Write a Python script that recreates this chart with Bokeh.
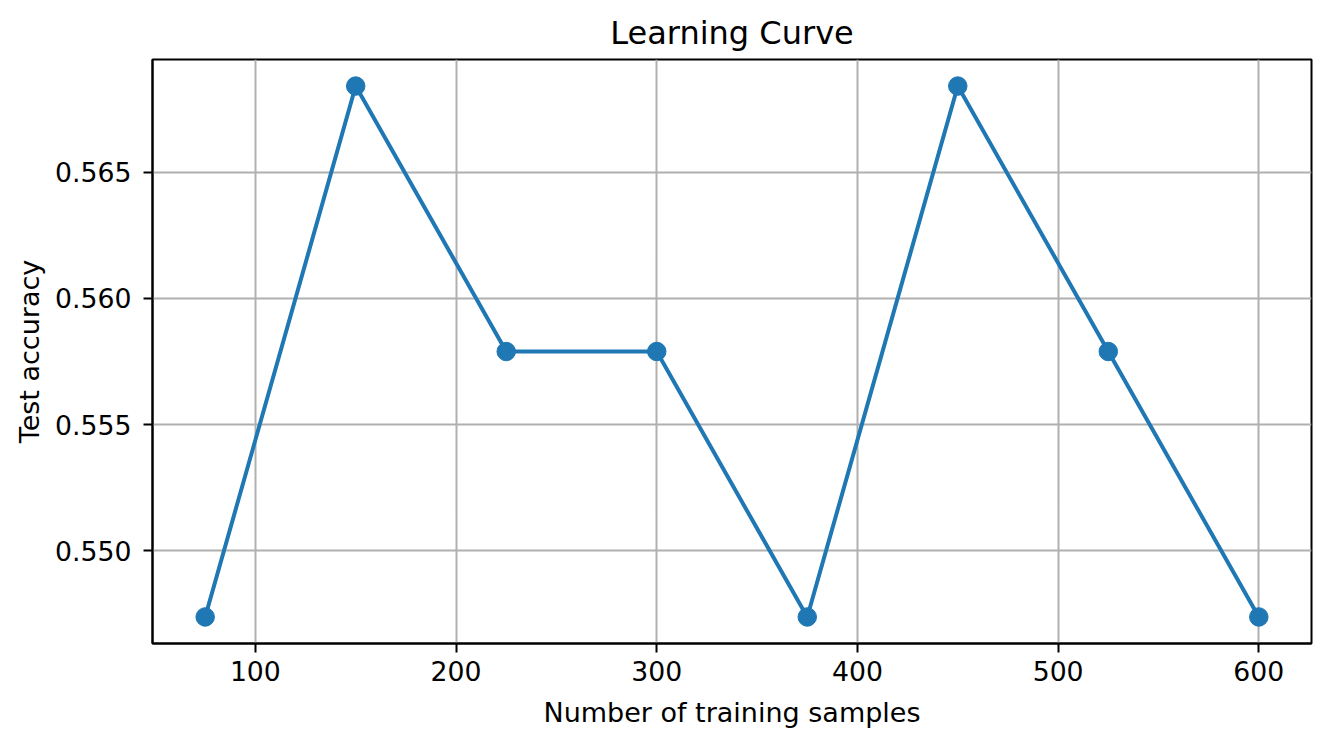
from bokeh.plotting import figure
from bokeh.models import FixedTicker, PrintfTickFormatter, Range1d
from bokeh.embed import file_html
from bokeh.resources import INLINE

train_sizes = [75, 150, 225, 300, 375, 450, 525, 600]
test_accuracy = [104/190, 108/190, 106/190, 106/190, 104/190, 108/190, 106/190, 104/190]
x_ticks = [100, 200, 300, 400, 500, 600]
y_ticks = [0.550, 0.555, 0.560, 0.565]

xmin, xmax = min(train_sizes), max(train_sizes)
ymin, ymax = min(test_accuracy), max(test_accuracy)
xpad = (xmax - xmin) * 0.05
ypad = (ymax - ymin) * 0.05

FONT = "DejaVu Sans"

p = figure(width=1321, height=739, output_backend="svg", toolbar_location=None,
           x_range=Range1d(xmin - xpad, xmax + xpad),
           y_range=Range1d(ymin - ypad, ymax + ypad),
           min_border_left=152, min_border_right=10, min_border_top=59, min_border_bottom=96,
           title="Learning Curve")

p.title.text_font = FONT
p.title.text_font_size = "32px"
p.title.text_font_style = "normal"
p.title.align = "center"
p.title.text_color = "black"
p.title.standoff = 15

p.outline_line_color = "black"
p.outline_line_width = 2
p.outline_line_alpha = 1

for ax in (p.xaxis[0], p.yaxis[0]):
    ax.axis_line_width = 2
    ax.axis_line_color = "black"
    ax.major_tick_line_width = 2
    ax.major_tick_line_color = "black"
    ax.major_tick_out = 9
    ax.major_tick_in = 0
    ax.minor_tick_line_color = None
    ax.major_label_text_font = FONT
    ax.major_label_text_font_size = "26.7px"
    ax.major_label_text_color = "black"
    ax.axis_label_text_font = FONT
    ax.axis_label_text_font_size = "27px"
    ax.axis_label_text_font_style = "normal"
    ax.axis_label_text_color = "black"

p.xaxis.ticker = FixedTicker(ticks=x_ticks)
p.yaxis.ticker = FixedTicker(ticks=y_ticks)
p.yaxis.formatter = PrintfTickFormatter(format="%.3f")
p.xaxis.axis_label = "Number of training samples"
p.yaxis.axis_label = "Test accuracy"
p.xaxis.major_label_standoff = 8
p.yaxis.major_label_standoff = 12
p.xaxis.axis_label_standoff = 13
p.yaxis.axis_label_standoff = 7

p.xgrid.ticker = FixedTicker(ticks=x_ticks)
p.ygrid.ticker = FixedTicker(ticks=y_ticks)
for g in (p.xgrid[0], p.ygrid[0]):
    g.grid_line_color = "#b0b0b0"
    g.grid_line_width = 2
    g.grid_line_alpha = 1

p.line(train_sizes, test_accuracy, line_color="#1f77b4", line_width=4)
p.scatter(train_sizes, test_accuracy, size=18.5, fill_color="#1f77b4", line_color="#1f77b4")

p.background_fill_color = "white"
p.border_fill_color = "white"

open("out.html", "w").write(file_html(p, INLINE))
